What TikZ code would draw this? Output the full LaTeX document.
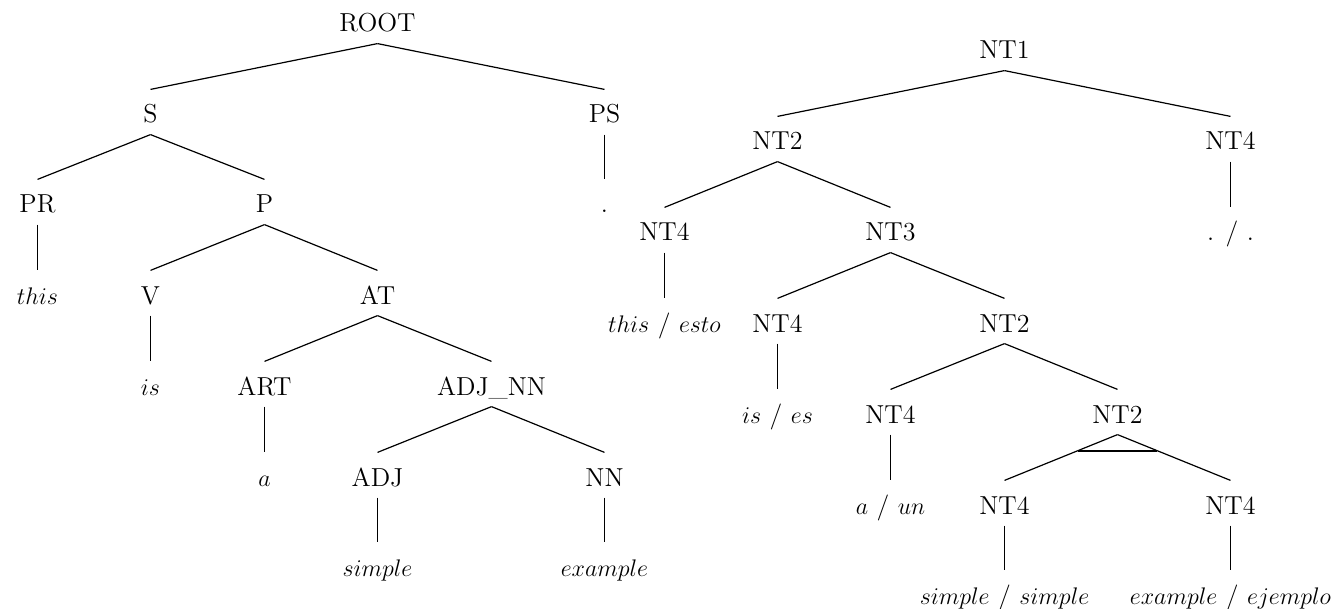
\documentclass[tikz,border=0pt]{standalone}
\usepackage{fontspec}
\usepackage{tikz}

\begin{document}
\begin{tikzpicture}[x=0.5pt,y=-0.5pt,
    lab/.style={anchor=base,inner sep=0pt,text height=16.5pt,text depth=5.5pt,
                font=\fontsize{13}{15}\selectfont},
    every path/.style={line width=0.6pt}]
          \useasboundingbox (0,0) rectangle (1343,609);
          % source tree
          \node[lab] (root) at (377.5,32) {ROOT};
          \node[lab] (s) at (150.5,123) {S};
          \node[lab] (ps) at (604.5,123) {PS};
          \node[lab] (pr) at (37.5,213) {PR};
          \node[lab] (p) at (264.5,213) {P};
          \node[lab] (stop) at (604.5,213) {.};
          \node[lab] (this) at (37.5,304) {$this$};
          \node[lab] (v) at (150.5,304) {V};
          \node[lab] (at) at (377.5,304) {AT};
          \node[lab] (is) at (150.5,395) {$is$};
          \node[lab] (art) at (264.5,395) {ART};
          \node[lab] (adjnn) at (491.5,395) {ADJ\_NN};
          \node[lab] (a) at (264.5,486) {$a$};
          \node[lab] (adj) at (377.5,486) {ADJ};
          \node[lab] (nn) at (604.5,486) {NN};
          \node[lab] (simple) at (377.5,576) {$simple$};
          \node[lab] (example) at (604.5,576) {$example$};
          \draw (root.south) -- (s.north);
          \draw (root.south) -- (ps.north);
          \draw (s.south) -- (pr.north);
          \draw (s.south) -- (p.north);
          \draw (ps.south) -- (stop.north);
          \draw (pr.south) -- (this.north);
          \draw (p.south) -- (v.north);
          \draw (p.south) -- (at.north);
          \draw (v.south) -- (is.north);
          \draw (at.south) -- (art.north);
          \draw (at.south) -- (adjnn.north);
          \draw (art.south) -- (a.north);
          \draw (adjnn.south) -- (adj.north);
          \draw (adjnn.south) -- (nn.north);
          \draw (adj.south) -- (simple.north);
          \draw (nn.south) -- (example.north);
          % aligned tree
          \node[lab] (nt1) at (1004.5,59) {NT1};
          \node[lab] (ntb) at (777.5,150) {NT2};
          \node[lab] (ntd) at (1230.5,150) {NT4};
          \node[lab] (ntd1) at (664.5,241) {NT4};
          \node[lab] (ntc) at (890.5,241) {NT3};
          \node[lab] (wstop) at (1230.5,241) {. / .};
          \node[lab] (wthis) at (664.5,332) {$this$ / $esto$};
          \node[lab] (ntd2) at (777.5,332) {NT4};
          \node[lab] (ntb2) at (1004.5,332) {NT2};
          \node[lab] (wis) at (777.5,423) {$is$ / $es$};
          \node[lab] (ntd3) at (890.5,423) {NT4};
          \node[lab] (ntb3) at (1117.5,423) {NT2};
          \node[lab] (wa) at (890.5,514) {$a$ / $un$};
          \node[lab] (ntd4) at (1004.5,514) {NT4};
          \node[lab] (ntd5) at (1230.5,514) {NT4};
          \node[lab] (wsimple) at (1004.5,604) {$simple$ / $simple$};
          \node[lab] (wexample) at (1230.5,604) {$example$ / $ejemplo$};
          \draw (nt1.south) -- (ntb.north);
          \draw (nt1.south) -- (ntd.north);
          \draw (ntb.south) -- (ntd1.north);
          \draw (ntb.south) -- (ntc.north);
          \draw (ntd.south) -- (wstop.north);
          \draw (ntd1.south) -- (wthis.north);
          \draw (ntc.south) -- (ntd2.north);
          \draw (ntc.south) -- (ntb2.north);
          \draw (ntd2.south) -- (wis.north);
          \draw (ntb2.south) -- (ntd3.north);
          \draw (ntb2.south) -- (ntb3.north);
          \draw (ntd3.south) -- (wa.north);
          \draw (ntb3.south) -- (ntd4.north) coordinate[pos=0.35] (invl);
          \draw (ntb3.south) -- (ntd5.north) coordinate[pos=0.35] (invr);
          \draw[line width=0.9pt] (invl) -- (invr);
          \draw (ntd4.south) -- (wsimple.north);
          \draw (ntd5.south) -- (wexample.north);
        \end{tikzpicture}
\end{document}
